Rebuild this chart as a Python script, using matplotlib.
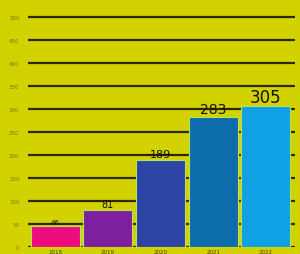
import matplotlib
matplotlib.use('Agg')
import matplotlib.pyplot as plt

# data
categories = ['2018', '2019', '2020', '2021', '2022']
values = [46, 81, 189, 283, 305]
bar_colors = ['#ec0c7c', '#7c20a0', '#2c44a4', '#0c6cac', '#10a0e4']
label_sizes = [5, 7, 8, 10, 12]
yticks = [0, 50, 100, 150, 200, 250, 300, 350, 400, 450, 500]

bg = '#d2d200'

fig = plt.figure(figsize=(3.0, 2.55), dpi=100, facecolor=bg)
ax = fig.add_axes([0.093, 0.027, 0.89, 0.973], facecolor=bg)

x = range(len(categories))
bars = ax.bar(x, values, width=0.93, color=bar_colors,
              edgecolor='#b8e060', linewidth=0.8, zorder=2)

for rect, v, fs in zip(bars, values, label_sizes):
    ax.text(rect.get_x() + rect.get_width() / 2, v + 1, str(v),
            ha='center', va='bottom', fontsize=fs, color='#111111', zorder=3)

ax.set_ylim(0, 538)
ax.set_xlim(-0.52, 4.55)
ax.set_yticks(yticks)
ax.set_xticks(list(x))
ax.set_xticklabels(categories)
ax.tick_params(axis='y', labelsize=4, colors='#7a7a00', length=0, pad=6)
ax.tick_params(axis='x', labelsize=4, colors='#444400', length=0, pad=1)
ax.yaxis.grid(True, color='#2a2a00', linewidth=1.6, zorder=1)
ax.set_axisbelow(True)
for s in ax.spines.values():
    s.set_visible(False)

fig.savefig('out.png', dpi=100, facecolor=bg)
